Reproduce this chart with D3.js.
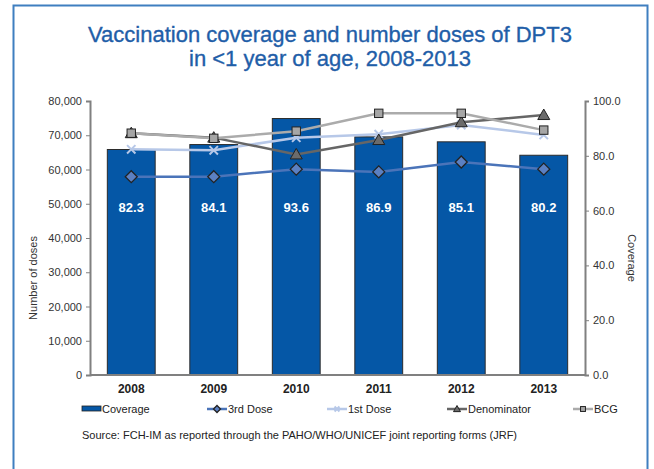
<!DOCTYPE html>
<html>
<head>
<meta charset="utf-8">
<script src="https://cdn.jsdelivr.net/npm/d3@7"></script>
<style>
  body { margin: 0; background: #fff; }
  svg { font-family: "Liberation Sans", Arial, sans-serif; }
</style>
</head>
<body>
<div class="chart"></div>
<script>
const years = ['2008', '2009', '2010', '2011', '2012', '2013'];
const coverage = [82.3, 84.1, 93.6, 86.9, 85.1, 80.2];
const thirdDose = [57900, 57900, 60100, 59300, 62200, 60100];
const firstDose = [65900, 65600, 69300, 70300, 73000, 70100];
const denominator = [70600, 69300, 64400, 68600, 73800, 75900];
const bcg = [70600, 69100, 71200, 76400, 76400, 71500];
const leftTicks = [0, 10000, 20000, 30000, 40000, 50000, 60000, 70000, 80000];
const rightTicks = [0, 20, 40, 60, 80, 100];

const width = 654, height = 469;
const svg = d3.select('.chart').append('svg')
    .attr('width', width)
    .attr('height', height);

// cadre bleu
svg.append('rect')
    .attr('x', 13.5).attr('y', 5.5)
    .attr('width', 634).attr('height', 480)
    .attr('fill', 'none')
    .attr('stroke', '#3f7fc0')
    .attr('stroke-width', 2);

// titre
const title = svg.append('text')
    .attr('text-anchor', 'middle')
    .attr('fill', '#1f5ea8')
    .attr('stroke', '#1f5ea8')
    .attr('stroke-width', 0.35)
    .attr('font-size', 22);
title.append('tspan').attr('x', 330).attr('y', 42).text('Vaccination coverage and number doses of DPT3');
title.append('tspan').attr('x', 330).attr('y', 66).text('in <1 year of age, 2008-2013');

const plotLeft = 90, plotRight = 585, plotTop = 101, plotBottom = 375;

const x = d3.scaleBand().domain(years).range([plotLeft, plotRight]).paddingInner(0.42).paddingOuter(0.21);
const xc = d => x(d) + x.bandwidth() / 2;
const yL = d3.scaleLinear().domain([0, 80000]).range([plotBottom, plotTop]);
const yR = d3.scaleLinear().domain([0, 100]).range([plotBottom, plotTop]);

// barres (couverture, axe de droite)
svg.append('g').selectAll('rect')
    .data(coverage)
    .enter()
    .append('rect')
    .attr('x', (d, i) => x(years[i]))
    .attr('y', d => yR(d))
    .attr('width', x.bandwidth())
    .attr('height', d => plotBottom - yR(d))
    .attr('fill', '#0557a6')
    .attr('stroke', '#2b2b2b')
    .attr('stroke-width', 1);

svg.append('g').selectAll('text')
    .data(coverage)
    .enter()
    .append('text')
    .attr('x', (d, i) => xc(years[i]))
    .attr('y', 212)
    .attr('text-anchor', 'middle')
    .attr('fill', '#fff')
    .attr('font-weight', 'bold')
    .attr('font-size', 13)
    .text(d => d.toFixed(1));

// axes
const axisColor = '#808080';
const gL = svg.append('g')
    .attr('transform', `translate(${plotLeft},0)`)
    .call(d3.axisLeft(yL).tickValues(leftTicks).tickSize(4).tickFormat(d3.format(',')));
const gR = svg.append('g')
    .attr('transform', `translate(${plotRight},0)`)
    .call(d3.axisRight(yR).tickValues(rightTicks).tickSize(4).tickFormat(d3.format('.1f')));
[gL, gR].forEach(g => {
    g.select('.domain').attr('stroke', axisColor).attr('stroke-width', 2);
    g.selectAll('.tick line').attr('stroke', axisColor);
    g.selectAll('.tick text').attr('fill', '#333').attr('font-size', 11)
        .attr('font-family', '"Liberation Sans", Arial, sans-serif');
});
gL.selectAll('.tick text').attr('x', -8);
gR.selectAll('.tick text').attr('x', 8);

svg.append('line')
    .attr('x1', plotLeft).attr('x2', plotRight)
    .attr('y1', plotBottom).attr('y2', plotBottom)
    .attr('stroke', axisColor).attr('stroke-width', 2);

svg.append('g').selectAll('text')
    .data(years)
    .enter()
    .append('text')
    .attr('x', d => xc(d))
    .attr('y', 393)
    .attr('text-anchor', 'middle')
    .attr('font-weight', 'bold')
    .attr('font-size', 12)
    .attr('fill', '#222')
    .text(d => d);

svg.append('text')
    .attr('transform', 'translate(37,278) rotate(-90)')
    .attr('text-anchor', 'middle')
    .attr('font-size', 11)
    .attr('fill', '#333')
    .text('Number of doses');
svg.append('text')
    .attr('transform', 'translate(628,258) rotate(90)')
    .attr('text-anchor', 'middle')
    .attr('font-size', 11)
    .attr('fill', '#333')
    .text('Coverage');

// séries de lignes
const series = [
    { name: '3rd Dose', values: thirdDose, color: '#4b74b9', width: 2.5, marker: 'diamond', fill: '#5b80c2' },
    { name: '1st Dose', values: firstDose, color: '#b7c8e8', width: 2.5, marker: 'x', fill: '#b7c8e8' },
    { name: 'Denominator', values: denominator, color: '#666666', width: 2.5, marker: 'triangle', fill: '#6b6b6b' },
    { name: 'BCG', values: bcg, color: '#ababab', width: 2.5, marker: 'square', fill: '#a6a6a6' }
];

const line = d3.line().x((d, i) => xc(years[i])).y(d => yL(d));

function drawMarker(g, type, cx, cy, s, fill, color) {
    if (type === 'diamond') {
        g.append('path')
            .attr('d', `M${cx},${cy - s}L${cx + s},${cy}L${cx},${cy + s}L${cx - s},${cy}Z`)
            .attr('fill', fill).attr('stroke', '#222').attr('stroke-width', 1.3);
    } else if (type === 'triangle') {
        g.append('path')
            .attr('d', `M${cx},${cy - s}L${cx + s},${cy + s * 0.75}L${cx - s},${cy + s * 0.75}Z`)
            .attr('fill', fill).attr('stroke', '#222').attr('stroke-width', 1);
    } else if (type === 'square') {
        const h = s * 0.7;
        g.append('rect')
            .attr('x', cx - h).attr('y', cy - h).attr('width', 2 * h).attr('height', 2 * h)
            .attr('fill', fill).attr('stroke', '#222').attr('stroke-width', 1);
    } else if (type === 'x') {
        const h = s * 0.7;
        g.append('path')
            .attr('d', `M${cx - h},${cy - h}L${cx + h},${cy + h}M${cx - h},${cy + h}L${cx + h},${cy - h}`)
            .attr('stroke', color).attr('stroke-width', 2);
    }
}

series.forEach(s => {
    const g = svg.append('g');
    g.append('path')
        .datum(s.values)
        .attr('d', line)
        .attr('fill', 'none')
        .attr('stroke', s.color)
        .attr('stroke-width', s.width);
    s.values.forEach((v, i) => drawMarker(g, s.marker, xc(years[i]), yL(v), 6, s.fill, s.color));
});

// légende
const legY = 409;
const leg = svg.append('g').attr('font-size', 11).attr('fill', '#222');
leg.append('rect')
    .attr('x', 82).attr('y', legY - 3).attr('width', 19).attr('height', 5)
    .attr('fill', '#0557a6').attr('stroke', '#222').attr('stroke-width', 0.8);
leg.append('text').attr('x', 102).attr('y', legY + 4).text('Coverage');

const legX = [207, 327, 447, 573];
series.forEach((s, i) => {
    const lx = legX[i];
    leg.append('line')
        .attr('x1', lx).attr('x2', lx + 20)
        .attr('y1', legY).attr('y2', legY)
        .attr('stroke', s.color).attr('stroke-width', 2.5);
    drawMarker(leg, s.marker, lx + 10, legY, 3.5, s.fill, s.color);
    leg.append('text').attr('x', lx + 21).attr('y', legY + 4).text(s.name);
});

svg.append('text')
    .attr('x', 82).attr('y', 439)
    .attr('font-size', 11)
    .attr('fill', '#222')
    .text('Source: FCH-IM as reported through the PAHO/WHO/UNICEF joint reporting forms (JRF)');
</script>
</body>
</html>
